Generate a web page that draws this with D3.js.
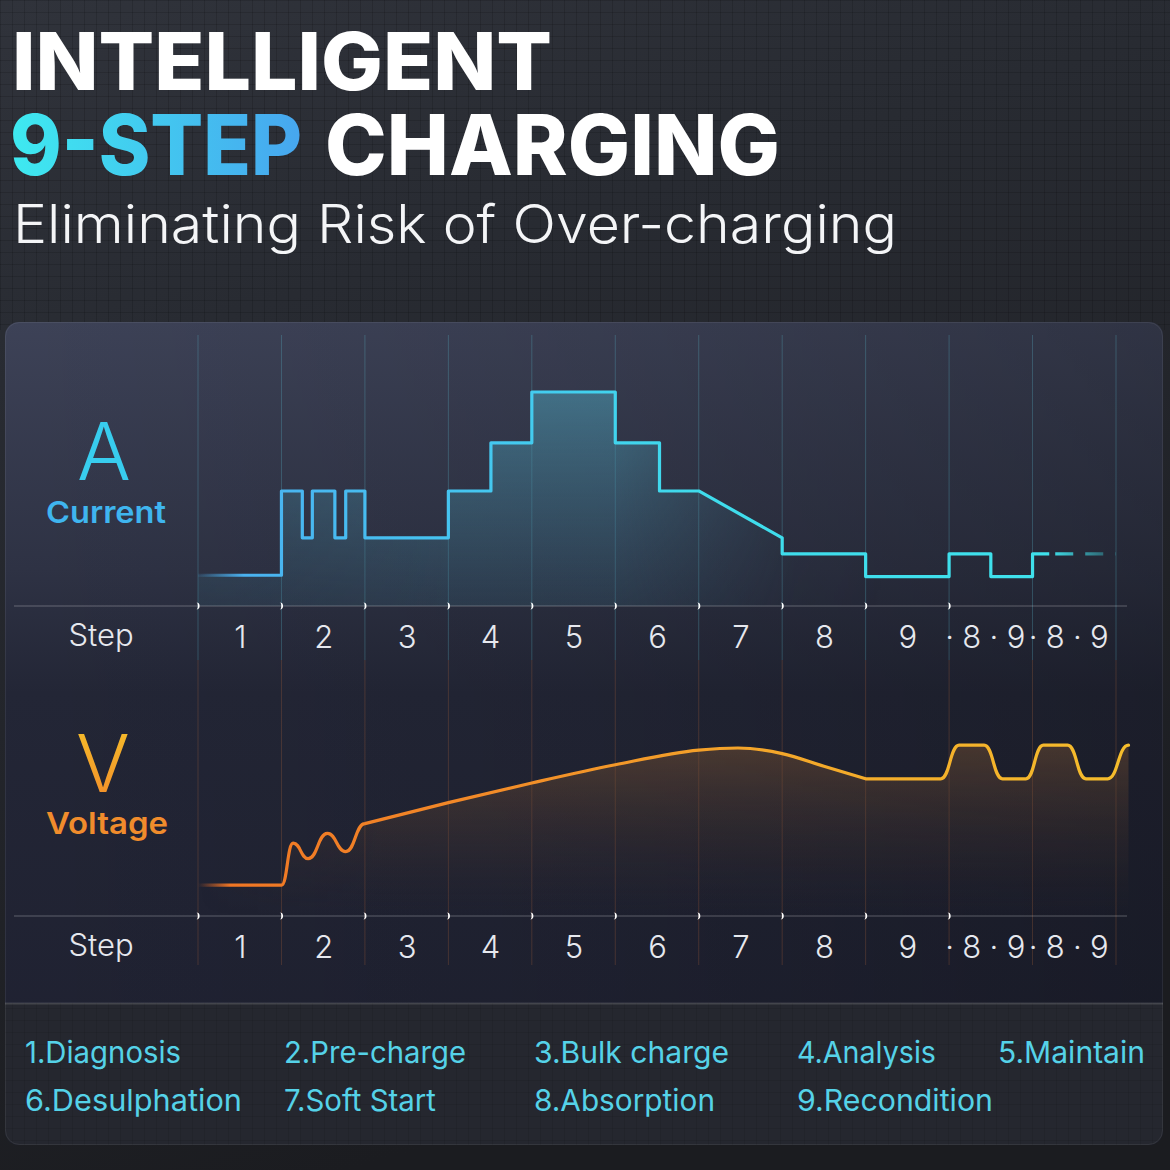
<!DOCTYPE html>
<html>
<head>
<meta charset="utf-8">
<script src="https://cdn.jsdelivr.net/npm/d3@7"></script>
<style>
  html, body { margin: 0; padding: 0; background: #1b1c21; }
  svg { display: block; font-family: Inter, "Noto Sans", sans-serif; }
</style>
</head>
<body>
<div id="chart"></div>
<script>
// ---- data ----
const stepLabels = ["1", "2", "3", "4", "5", "6", "7", "8", "9", "·8·9", "·8·9"];

// current profile: [step position, amps]
const currentPoints = [
  [0, 1.15], [1, 1.15], [1, 4.3], [1.25, 4.3], [1.25, 2.55], [1.37, 2.55], [1.37, 4.3],
  [1.64, 4.3], [1.64, 2.55], [1.77, 2.55], [1.77, 4.3], [2, 4.3], [2, 2.55], [3, 2.55],
  [3, 4.3], [3.51, 4.3], [3.51, 6.1], [4, 6.1], [4, 8.0], [5, 8.0], [5, 6.1], [5.53, 6.1],
  [5.53, 4.3], [6, 4.3], [7, 2.55], [7, 1.95], [8, 1.95], [8, 1.1], [9, 1.1], [9, 1.95],
  [9.5, 1.95], [9.5, 1.1], [10, 1.1], [10, 1.95], [10.2, 1.95]
];
const currentTail = [[10.2, 1.95], [11, 1.95]];

// voltage profile: [step position, volts], in three pieces
const voltageStart = [
  [0, 2.2], [1.0, 2.2], [1.14, 5.2], [1.32, 4.1], [1.55, 5.9], [1.77, 4.6], [2.0, 6.6]
];
const voltageRamp = [
  [2.0, 6.6], [3.0, 8.1], [4.0, 9.5], [5.0, 10.8], [6.0, 11.85], [6.47, 12.0],
  [7.0, 11.6], [7.5, 10.7], [8.0, 9.8]
];
const voltagePulses = [
  [8.0, 9.8], [8.9, 9.8], [9.12, 12.2], [9.42, 12.2], [9.64, 9.8], [9.92, 9.8],
  [10.13, 12.2], [10.42, 12.2], [10.64, 9.8], [10.9, 9.8], [11.15, 12.2]
];

const legendRow1 = ["1.Diagnosis", "2.Pre-charge", "3.Bulk charge", "4.Analysis", "5.Maintain"];
const legendRow2 = ["6.Desulphation", "7.Soft Start", "8.Absorption", "9.Recondition"];

// ---- layout ----
const W = 1170, H = 1170;
const svg = d3.select('#chart').append('svg')
  .attr('width', W)
  .attr('height', H);
const defs = svg.append('defs');

function linGrad(id, stops, attrs) {
  const g = defs.append('linearGradient').attr('id', id);
  Object.entries(attrs || {}).forEach(([k, v]) => g.attr(k, v));
  stops.forEach(s => g.append('stop')
    .attr('offset', s[0]).attr('stop-color', s[1]).attr('stop-opacity', s[2] == null ? 1 : s[2]));
  return g;
}

// background
linGrad('bgGrad', [[0, '#30333b'], [0.3, '#282b32'], [1, '#1b1c20']], {x1: 0, y1: 0, x2: 0.3, y2: 1});
const pat = defs.append('pattern').attr('id', 'grid')
  .attr('width', 12).attr('height', 12).attr('patternUnits', 'userSpaceOnUse');
pat.append('path').attr('d', 'M12 0 L0 0 0 12').attr('fill', 'none')
  .attr('stroke', 'rgba(0,0,0,0.28)').attr('stroke-width', 1);

svg.append('rect').attr('width', W).attr('height', H).attr('fill', 'url(#bgGrad)');
svg.append('rect').attr('width', W).attr('height', 330).attr('fill', 'url(#grid)');

// titles
linGrad('stepGrad', [[0, '#3eeaf0'], [1, '#47a6ef']], {x1: 0, y1: 0, x2: 1, y2: 0});
svg.append('text').attr('x', 12).attr('y', 90)
  .attr('font-size', 80).attr('font-weight', 800).attr('fill', '#ffffff')
  .attr('textLength', 540).attr('lengthAdjust', 'spacingAndGlyphs')
  .text('INTELLIGENT');
svg.append('text').attr('x', 10).attr('y', 175)
  .attr('font-size', 84).attr('font-weight', 800).attr('fill', 'url(#stepGrad)')
  .attr('textLength', 292).attr('lengthAdjust', 'spacingAndGlyphs')
  .text('9-STEP');
svg.append('text').attr('x', 325).attr('y', 175)
  .attr('font-size', 84).attr('font-weight', 800).attr('fill', '#ffffff')
  .attr('textLength', 455).attr('lengthAdjust', 'spacingAndGlyphs')
  .text('CHARGING');
svg.append('text').attr('x', 13).attr('y', 243)
  .attr('font-size', 53).attr('font-weight', 300).attr('fill', '#f4f5f7')
  .attr('textLength', 884).attr('lengthAdjust', 'spacingAndGlyphs')
  .text('Eliminating Risk of Over-charging');

// panel
const panel = {x: 5, y: 322, w: 1158, h: 823, r: 14};
defs.append('clipPath').attr('id', 'panelClip').append('rect')
  .attr('x', panel.x).attr('y', panel.y).attr('width', panel.w).attr('height', panel.h).attr('rx', panel.r);
linGrad('panelGrad', [[0, '#3d4257'], [0.3, '#2e3244'], [0.45, '#232636'], [1, '#1e2030']], {x1: 0, y1: 0, x2: 0, y2: 1});
linGrad('panelShade', [[0, '#000', 0], [0.5, '#000', 0.08], [1, '#000', 0.22]], {x1: 0, y1: 0, x2: 1, y2: 0});

const pg = svg.append('g').attr('clip-path', 'url(#panelClip)');
pg.append('rect').attr('x', panel.x).attr('y', panel.y).attr('width', panel.w).attr('height', panel.h).attr('fill', 'url(#panelGrad)');
pg.append('rect').attr('x', panel.x).attr('y', panel.y).attr('width', panel.w).attr('height', panel.h).attr('fill', 'url(#panelShade)');
// legend band
pg.append('rect').attr('x', panel.x).attr('y', 1003).attr('width', panel.w).attr('height', 142).attr('fill', '#25272f');
pg.append('rect').attr('x', panel.x).attr('y', 1003).attr('width', panel.w).attr('height', 142).attr('fill', 'url(#grid)').attr('opacity', 0.6);
pg.append('line').attr('x1', panel.x).attr('x2', panel.x + panel.w).attr('y1', 1003.5).attr('y2', 1003.5)
  .attr('stroke', 'rgba(255,255,255,0.14)').attr('stroke-width', 2);
svg.append('rect').attr('x', panel.x + 0.5).attr('y', panel.y + 0.5).attr('width', panel.w - 1).attr('height', panel.h - 1)
  .attr('rx', panel.r).attr('fill', 'none').attr('stroke', 'rgba(255,255,255,0.07)');

// scales
const x = d3.scaleLinear().domain([0, 11]).range([198, 1116]);
const yA = d3.scaleLinear().domain([0, 10]).range([606, 338.5]);
const yV = d3.scaleLinear().domain([0, 16]).range([916, 692]);

// vertical step grid
const bounds = d3.range(12);
svg.append('g').selectAll('line').data(bounds).join('line')
  .attr('x1', d => x(d)).attr('x2', d => x(d))
  .attr('y1', 335).attr('y2', 660)
  .attr('stroke', 'rgba(90,180,200,0.3)').attr('stroke-width', 1);
svg.append('g').selectAll('line').data(bounds).join('line')
  .attr('x1', d => x(d)).attr('x2', d => x(d))
  .attr('y1', 660).attr('y2', 965)
  .attr('stroke', 'rgba(190,110,60,0.26)').attr('stroke-width', 1);

// ---- current chart ----
linGrad('curFill', [[0, '#4b95ad', 0.6], [1, '#3a6f86', 0.22]], {gradientUnits: 'userSpaceOnUse', x1: 0, y1: 392, x2: 0, y2: 606});
linGrad('curMaskGrad', [[0, '#fff', 0.75], [0.28, '#fff', 1], [0.45, '#fff', 1], [0.65, '#fff', 0.1], [0.75, '#fff', 0]],
  {gradientUnits: 'userSpaceOnUse', x1: 198, y1: 0, x2: 1116, y2: 0});
defs.append('mask').attr('id', 'curMask').append('rect')
  .attr('x', 0).attr('y', 0).attr('width', W).attr('height', H).attr('fill', 'url(#curMaskGrad)');
linGrad('curStroke', [[0, '#4aaef0', 0.1], [0.05, '#4ab2f0'], [0.3, '#45c6f0'], [0.55, '#3fdcec'], [1, '#3fe2ec']],
  {gradientUnits: 'userSpaceOnUse', x1: 198, y1: 0, x2: 1116, y2: 0});
linGrad('tailStroke', [[0, '#3fe2ec', 1], [1, '#3fe2ec', 0.2]],
  {gradientUnits: 'userSpaceOnUse', x1: x(10.2), y1: 0, x2: x(11), y2: 0});

const curArea = d3.area().x(d => x(d[0])).y0(yA(0)).y1(d => yA(d[1]));
const curLine = d3.line().x(d => x(d[0])).y(d => yA(d[1]));

svg.append('path').datum(currentPoints)
  .attr('d', curArea).attr('fill', 'url(#curFill)').attr('mask', 'url(#curMask)');
svg.append('path').datum(currentPoints)
  .attr('d', curLine).attr('fill', 'none').attr('stroke', 'url(#curStroke)')
  .attr('stroke-width', 3.2).attr('stroke-linejoin', 'round');
svg.append('path').datum(currentTail)
  .attr('d', curLine).attr('fill', 'none').attr('stroke', 'url(#tailStroke)')
  .attr('stroke-width', 3.2).attr('stroke-dasharray', '0 6 18 6');

// ---- voltage chart ----
linGrad('volFill', [[0, '#7e5532', 0.5], [1, '#3a2d2c', 0.0]], {gradientUnits: 'userSpaceOnUse', x1: 0, y1: 745, x2: 0, y2: 916});
linGrad('volMaskGrad', [[0, '#fff', 0], [0.09, '#fff', 0.7], [0.2, '#fff', 1], [1, '#fff', 0.85]],
  {gradientUnits: 'userSpaceOnUse', x1: 198, y1: 0, x2: 1130, y2: 0});
defs.append('mask').attr('id', 'volMask').append('rect')
  .attr('x', 0).attr('y', 0).attr('width', W).attr('height', H).attr('fill', 'url(#volMaskGrad)');
linGrad('volStroke', [[0, '#f06a22', 0], [0.035, '#f07624'], [0.3, '#f28a28'], [0.6, '#f4a62a'], [1, '#f5bd2c']],
  {gradientUnits: 'userSpaceOnUse', x1: 198, y1: 0, x2: 1130, y2: 0});

// each voltage piece has its own curve; the pieces are joined into one path
const volPieces = [
  {pts: voltageStart, curve: d3.curveBumpX},
  {pts: voltageRamp, curve: d3.curveMonotoneX},
  {pts: voltagePulses, curve: d3.curveBumpX}
];
const volTop = volPieces.map((p, i) => {
  const d = d3.line().curve(p.curve).x(d => x(d[0])).y(d => yV(d[1]))(p.pts);
  return i === 0 ? d : d.replace(/^M/, 'L');
}).join('');
const lastV = voltagePulses[voltagePulses.length - 1];
const volAreaD = volTop + `L${x(lastV[0])},${yV(0)}L${x(voltageStart[0][0])},${yV(0)}Z`;

svg.append('path').attr('d', volAreaD).attr('fill', 'url(#volFill)').attr('mask', 'url(#volMask)');
svg.append('path').attr('d', volTop).attr('fill', 'none').attr('stroke', 'url(#volStroke)')
  .attr('stroke-width', 3.2).attr('stroke-linecap', 'round').attr('stroke-linejoin', 'round');

// ---- step axes ----
function stepAxis(y0) {
  svg.append('line').attr('x1', 14).attr('x2', 1127).attr('y1', y0).attr('y2', y0)
    .attr('stroke', 'rgba(255,255,255,0.28)').attr('stroke-width', 1);
  svg.append('g').selectAll('path').data(d3.range(10)).join('path')
    .attr('transform', d => `translate(${x(d)},${y0})`)
    .attr('d', 'M-1.8,-3.4 A3.4,3.4 0 0 1 -1.8,3.4 A1.6,3.4 0 0 0 -1.8,-3.4 Z')
    .attr('fill', '#ffffff');

  const ax = svg.append('g')
    .attr('transform', `translate(0, ${y0 + 42})`)
    .call(d3.axisBottom(x)
      .tickValues(d3.range(11).map(i => i + 0.5))
      .tickFormat(d => stepLabels[Math.floor(d)])
      .tickSize(0)
      .tickPadding(0));
  ax.select('.domain').remove();
  ax.selectAll('text')
    .attr('y', 0).attr('dy', 0)
    .attr('font-family', 'Inter, "Noto Sans", sans-serif')
    .attr('font-size', 31).attr('font-weight', 300)
    .attr('fill', '#e6e8ee')
    .each(function(d) {
      if (stepLabels[Math.floor(d)].length > 1) {
        d3.select(this).attr('x', -6).attr('textLength', 80).attr('lengthAdjust', 'spacing');
      }
    });

  svg.append('text').attr('x', 101).attr('y', y0 + 40)
    .attr('text-anchor', 'middle').attr('font-size', 31).attr('font-weight', 300)
    .attr('fill', '#e6e8ee').text('Step');
}
stepAxis(606);
stepAxis(916);

// ---- unit labels ----
svg.append('text').attr('x', 104).attr('y', 480).attr('text-anchor', 'middle')
  .attr('font-size', 80).attr('font-weight', 300).attr('fill', '#38cdee').text('A');
svg.append('text').attr('x', 106).attr('y', 523).attr('text-anchor', 'middle')
  .attr('font-size', 30).attr('font-weight', 600).attr('fill', '#3fb5ef')
  .attr('textLength', 120).attr('lengthAdjust', 'spacingAndGlyphs').text('Current');

linGrad('vGrad', [[0, '#f6c42a'], [1, '#f2882a']], {x1: 0, y1: 0, x2: 0, y2: 1});
svg.append('text').attr('x', 103).attr('y', 792).attr('text-anchor', 'middle')
  .attr('font-size', 80).attr('font-weight', 300).attr('fill', 'url(#vGrad)').text('V');
svg.append('text').attr('x', 107).attr('y', 834).attr('text-anchor', 'middle')
  .attr('font-size', 30).attr('font-weight', 600).attr('fill', '#f08c2c')
  .attr('textLength', 122).attr('lengthAdjust', 'spacingAndGlyphs').text('Voltage');

// ---- legend ----
const legendX = [25, 284, 534, 797, 998];
const legendW1 = [156, 182, 195, 139, 147];
const legendW2 = [217, 152, 181, 196];
const lg = svg.append('g')
  .attr('font-size', 30).attr('font-weight', 400).attr('fill', '#55d2e8');
lg.selectAll('text.r1').data(legendRow1).join('text').attr('class', 'r1')
  .attr('x', (d, i) => legendX[i]).attr('y', 1063)
  .attr('textLength', (d, i) => legendW1[i]).attr('lengthAdjust', 'spacingAndGlyphs')
  .text(d => d);
lg.selectAll('text.r2').data(legendRow2).join('text').attr('class', 'r2')
  .attr('x', (d, i) => legendX[i]).attr('y', 1111)
  .attr('textLength', (d, i) => legendW2[i]).attr('lengthAdjust', 'spacingAndGlyphs')
  .text(d => d);
</script>
</body>
</html>
